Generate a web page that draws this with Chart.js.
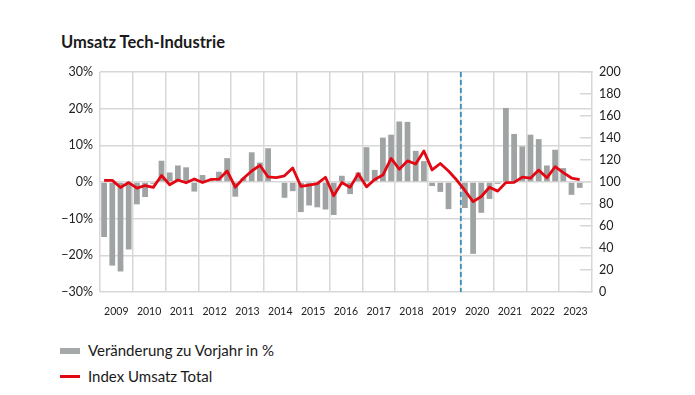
<!DOCTYPE html>
<html>
<head>
<meta charset="utf-8">
<script src="https://cdn.jsdelivr.net/npm/chart.js@4.4.0/dist/chart.umd.min.js"></script>
<style>
  body { margin: 0; background: #fff; font-family: Lato, sans-serif; color: #1a1a1a; }
  #wrap { position: relative; width: 695px; height: 395px; overflow: hidden; }
  #titre { position: absolute; left: 61px; top: 32px; margin: 0; font-size: 16.5px; font-weight: 700; line-height: 20px; }
  #graph { position: absolute; left: 0; top: 0; }
  .leg { position: absolute; left: 60px; font-size: 15px; line-height: 20px; }
  .leg span { position: absolute; left: 0; width: 20px; }
  .leg b { font-weight: 400; position: absolute; left: 28px; top: 0; white-space: nowrap; }
</style>
</head>
<body>
<div id="wrap">
  <h1 id="titre">Umsatz Tech-Industrie</h1>
  <canvas id="graph" width="695" height="330"></canvas>
  <div class="leg" style="top:340px"><span style="top:8px;height:6px;background:#a6a9a9"></span><b>Veränderung zu Vorjahr in %</b></div>
  <div class="leg" style="top:366px"><span style="top:9px;height:3px;background:#e30613"></span><b>Index Umsatz Total</b></div>
</div>
<script>
// années et trimestres
var annees = ['2009','2010','2011','2012','2013','2014','2015','2016','2017','2018','2019','2020','2021','2022','2023'];
var trimestres = [];
annees.forEach(function(a) { ['Q1','Q2','Q3','Q4'].forEach(function(q) { trimestres.push(a + ' ' + q); }); });

// Veränderung zu Vorjahr in % (barres)
var variation = [
  -15.0, -22.8, -24.4, -18.4,
  -6.1, -4.1, -0.5, 5.8,
  2.6, 4.5, 4.0, -2.6,
  1.9, 0.5, 2.8, 6.5,
  -4.0, 1.1, 8.1, 5.3,
  9.2, 0.2, -4.3, -2.5,
  -8.2, -6.4, -6.9, -7.5,
  -9.0, 1.7, -3.3, 2.6,
  9.5, 3.3, 12.1, 12.9,
  16.5, 16.4, 8.5, 5.7,
  -1.1, -2.7, -7.4, 0,
  -7.1, -19.6, -8.4, -4.6,
  -0.5, 20.2, 13.1, 9.7,
  12.9, 11.7, 4.5, 8.8,
  3.8, -3.5, -1.6, null
];

// Index Umsatz Total (ligne)
var indice = [
  101.5, 101.5, 95, 99.5,
  94.5, 96.8, 95.1, 105.9,
  97.5, 101.8, 99.3, 102.8,
  99.5, 102.3, 102.6, 110,
  95.3, 103.4, 110, 115.2,
  104.6, 104, 105.6, 112.7,
  96, 97.2, 98.5, 104.3,
  87.5, 99.5, 95.1, 107.6,
  95.6, 102.3, 106.3, 121.4,
  111.6, 119.2, 116.3, 128.2,
  111, 116.8, 110, 101.8,
  92.3, 82.2, 86.8, 95.2,
  91.7, 99.5, 99.7, 104.4,
  103.5, 110.8, 103.8, 113.9,
  108.5, 103.6, 102.2, null
];

var debut2020 = trimestres.indexOf('2020 Q1');
var gris = '#d7d7d7';
var police = { family: 'Lato', size: 12.5 };

// ligne pointillée début 2020
var ligne2020 = {
  id: 'ligne2020',
  beforeDatasetsDraw: function(chart) {
    var x = chart.scales.x;
    var px = (x.getPixelForValue(debut2020 - 1) + x.getPixelForValue(debut2020)) / 2;
    var ctx = chart.ctx;
    ctx.save();
    ctx.strokeStyle = '#3b8dbd';
    ctx.lineWidth = 1.8;
    ctx.setLineDash([5, 3]);
    ctx.beginPath();
    ctx.moveTo(px, chart.chartArea.top);
    ctx.lineTo(px, chart.chartArea.bottom);
    ctx.stroke();
    ctx.restore();
  }
};

var ctx = document.getElementById('graph').getContext('2d');
var graphique = new Chart(ctx, {
  data: {
    labels: trimestres,
    datasets: [{
      type: 'line',
      label: 'Index Umsatz Total',
      data: indice,
      yAxisID: 'y1',
      borderColor: '#e30613',
      borderWidth: 2.8,
      pointRadius: 0,
      tension: 0,
      borderJoinStyle: 'round',
      order: 0
    }, {
      type: 'bar',
      label: 'Veränderung zu Vorjahr in %',
      data: variation,
      yAxisID: 'y',
      backgroundColor: '#9fa3a3',
      categoryPercentage: 1,
      barPercentage: 0.7,
      order: 1
    }]
  },
  options: {
    responsive: false,
    animation: false,
    devicePixelRatio: 1,
    layout: { padding: { top: 72, left: 0, right: 0, bottom: 0 } },
    plugins: { legend: { display: false }, tooltip: { enabled: false } },
    scales: {
      x: {
        type: 'category',
        offset: true,
        grid: {
          offset: true,
          drawTicks: false,
          lineWidth: 1.5,
          color: function(c) { return c.index % 4 === 0 ? gris : 'transparent'; }
        },
        border: { display: false },
        ticks: {
          autoSkip: false,
          maxRotation: 0,
          padding: 13,
          labelOffset: 4,
          color: '#222',
          font: { family: 'Lato', size: 10.5 },
          callback: function(v, i) { return i % 4 === 1 ? annees[Math.floor(i / 4)] : ''; }
        },
        afterFit: function(s) { s.height = 38; }
      },
      y: {
        position: 'left',
        min: -30,
        max: 30,
        grid: { color: gris, lineWidth: 1.5, drawTicks: false },
        border: { display: false },
        ticks: {
          stepSize: 10,
          padding: 7,
          color: '#222',
          font: police,
          callback: function(v) { return (v < 0 ? '\u2212' : '') + Math.abs(v) + '%'; }
        },
        afterFit: function(s) { s.width = 100; }
      },
      y1: {
        position: 'right',
        min: 0,
        max: 200,
        grid: { drawOnChartArea: false, drawTicks: true, tickLength: -12, color: gris, lineWidth: 1.5 },
        border: { display: true, color: gris, width: 1.5 },
        ticks: { stepSize: 20, padding: 19, color: '#222', font: police },
        afterFit: function(s) { s.width = 103; }
      }
    }
  },
  plugins: [ligne2020]
});
</script>
</body>
</html>
